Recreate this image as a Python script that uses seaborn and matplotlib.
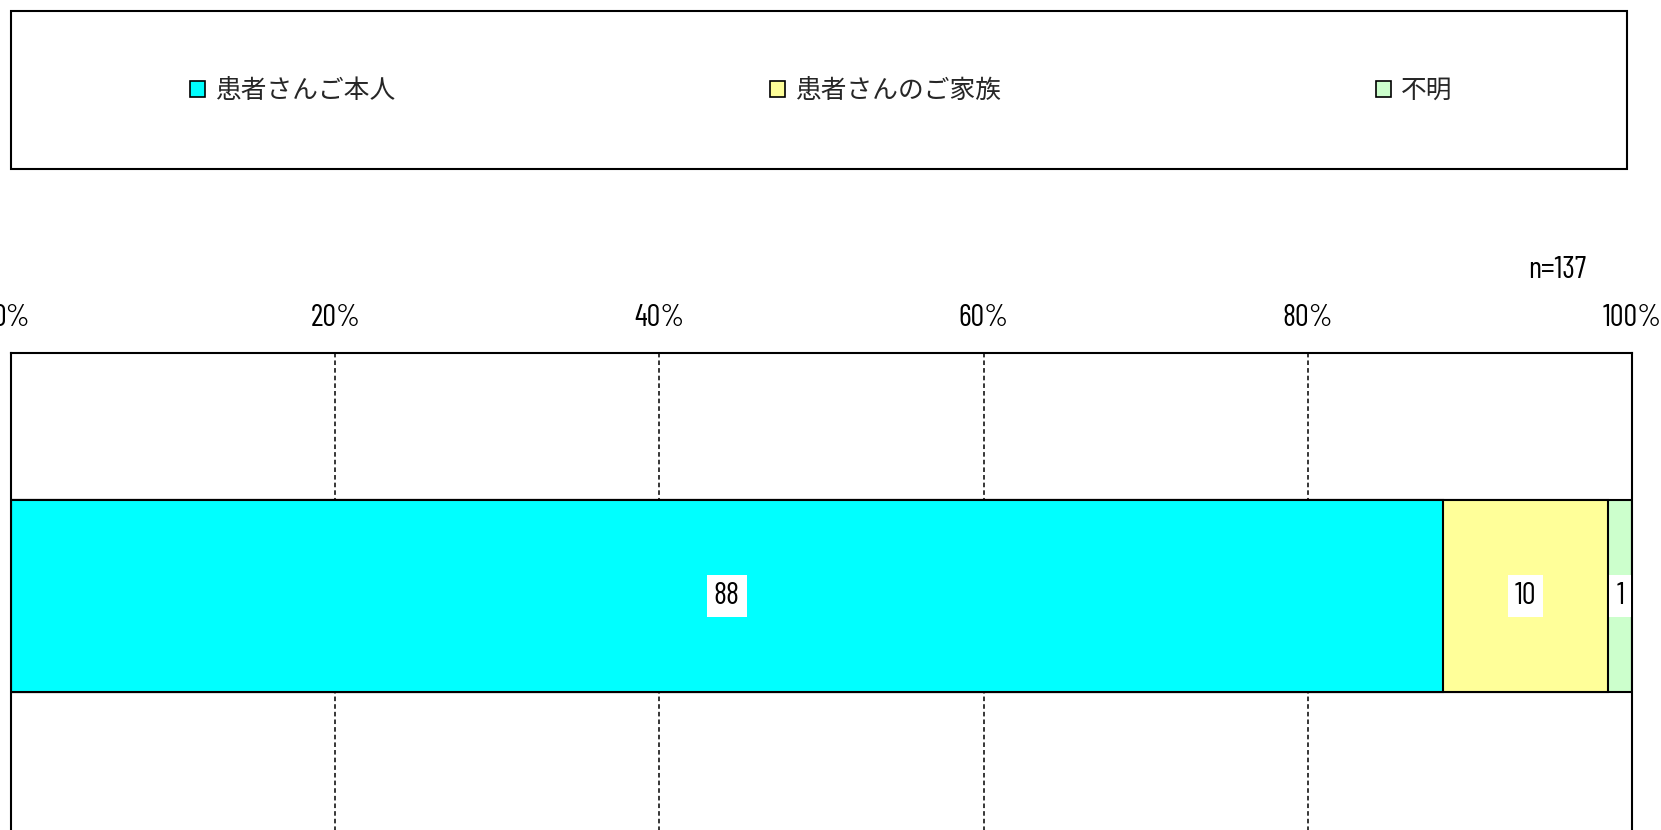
import matplotlib
matplotlib.use("Agg")
import matplotlib.pyplot as plt
import seaborn as sns
import pandas as pd
import numpy as np
from matplotlib.patches import Patch, Rectangle

# ---- data ----
categories = ["患者さんご本人", "患者さんのご家族", "不明"]
counts = [121, 14, 2]
bar_labels = ["88", "10", "1"]
colors = ["#00FFFF", "#FFFF99", "#CCFFCC"]
n_text = "n=137"
xticks = [0, 20, 40, 60, 80, 100]
xticklabels = ["0%", "20%", "40%", "60%", "80%", "100%"]

sns.set_theme(style="white")
plt.rcParams['font.family'] = ['Noto Sans CJK JP', 'DejaVu Sans']
num_font = ['Barlow Condensed', 'IBM Plex Sans Condensed',
            'Noto Sans CJK JP', 'DejaVu Sans']

pct = np.array(counts, dtype=float) / sum(counts) * 100
cum = np.cumsum(pct)
df = pd.DataFrame({"row": ["all"] * len(categories), "cat": categories,
                   "pct": pct, "cum": cum})

W, H = 1661, 830
fig = plt.figure(figsize=(W / 100, H / 100), dpi=100)
ax = fig.add_axes([11 / W, (H - 839) / H, 1621 / W, 486 / H])

# stacked horizontal bar: draw cumulative totals from largest to smallest
for i in reversed(range(len(categories))):
    sns.barplot(data=df.iloc[[i]], x="cum", y="row", orient="h",
                color=colors[i], saturation=1, width=0.395,
                edgecolor="black", linewidth=1.5, errorbar=None, ax=ax)

for i in range(len(categories)):
    ax.text(cum[i] - pct[i] / 2, 0, bar_labels[i], ha="center", va="center",
            fontsize=22, fontfamily=num_font, color="black",
            bbox=dict(facecolor="white", edgecolor="none", pad=5))

ax.set_xlim(0, 100)
ax.set_ylim(0.5, -0.5)
ax.set_xticks(xticks)
ax.set_xticklabels(xticklabels, fontfamily=num_font, fontsize=22)
ax.tick_params(axis="x", top=True, labeltop=True, bottom=False,
               labelbottom=False, length=0, pad=15, colors="black")
ax.set_yticks([])
ax.set_xlabel("")
ax.set_ylabel("")
ax.grid(axis="x", color="black", linestyle=(0, (3, 2)), linewidth=1.1)
ax.set_axisbelow(True)
for s in ax.spines.values():
    s.set_visible(True)
    s.set_color("black")
    s.set_linewidth(1.5)

fig.text(1586 / W, 1 - 270 / H, n_text, ha="right", va="center",
         fontsize=22, fontfamily=num_font, color="black")

# legend box
fig.add_artist(Rectangle((11 / W, 1 - 169 / H), 1616 / W, 158 / H,
                         transform=fig.transFigure, fill=False,
                         edgecolor="black", linewidth=1.5))
handles = [Patch(facecolor=c, edgecolor="black", linewidth=1.2) for c in colors]
fig.legend(handles, categories, loc="center",
           bbox_to_anchor=(821 / W, 1 - 91 / H), ncol=3, frameon=False,
           fontsize=18.5, handlelength=0.6, handleheight=0.6,
           handletextpad=0.36, columnspacing=14.6)

fig.savefig("out.png", dpi=100)
